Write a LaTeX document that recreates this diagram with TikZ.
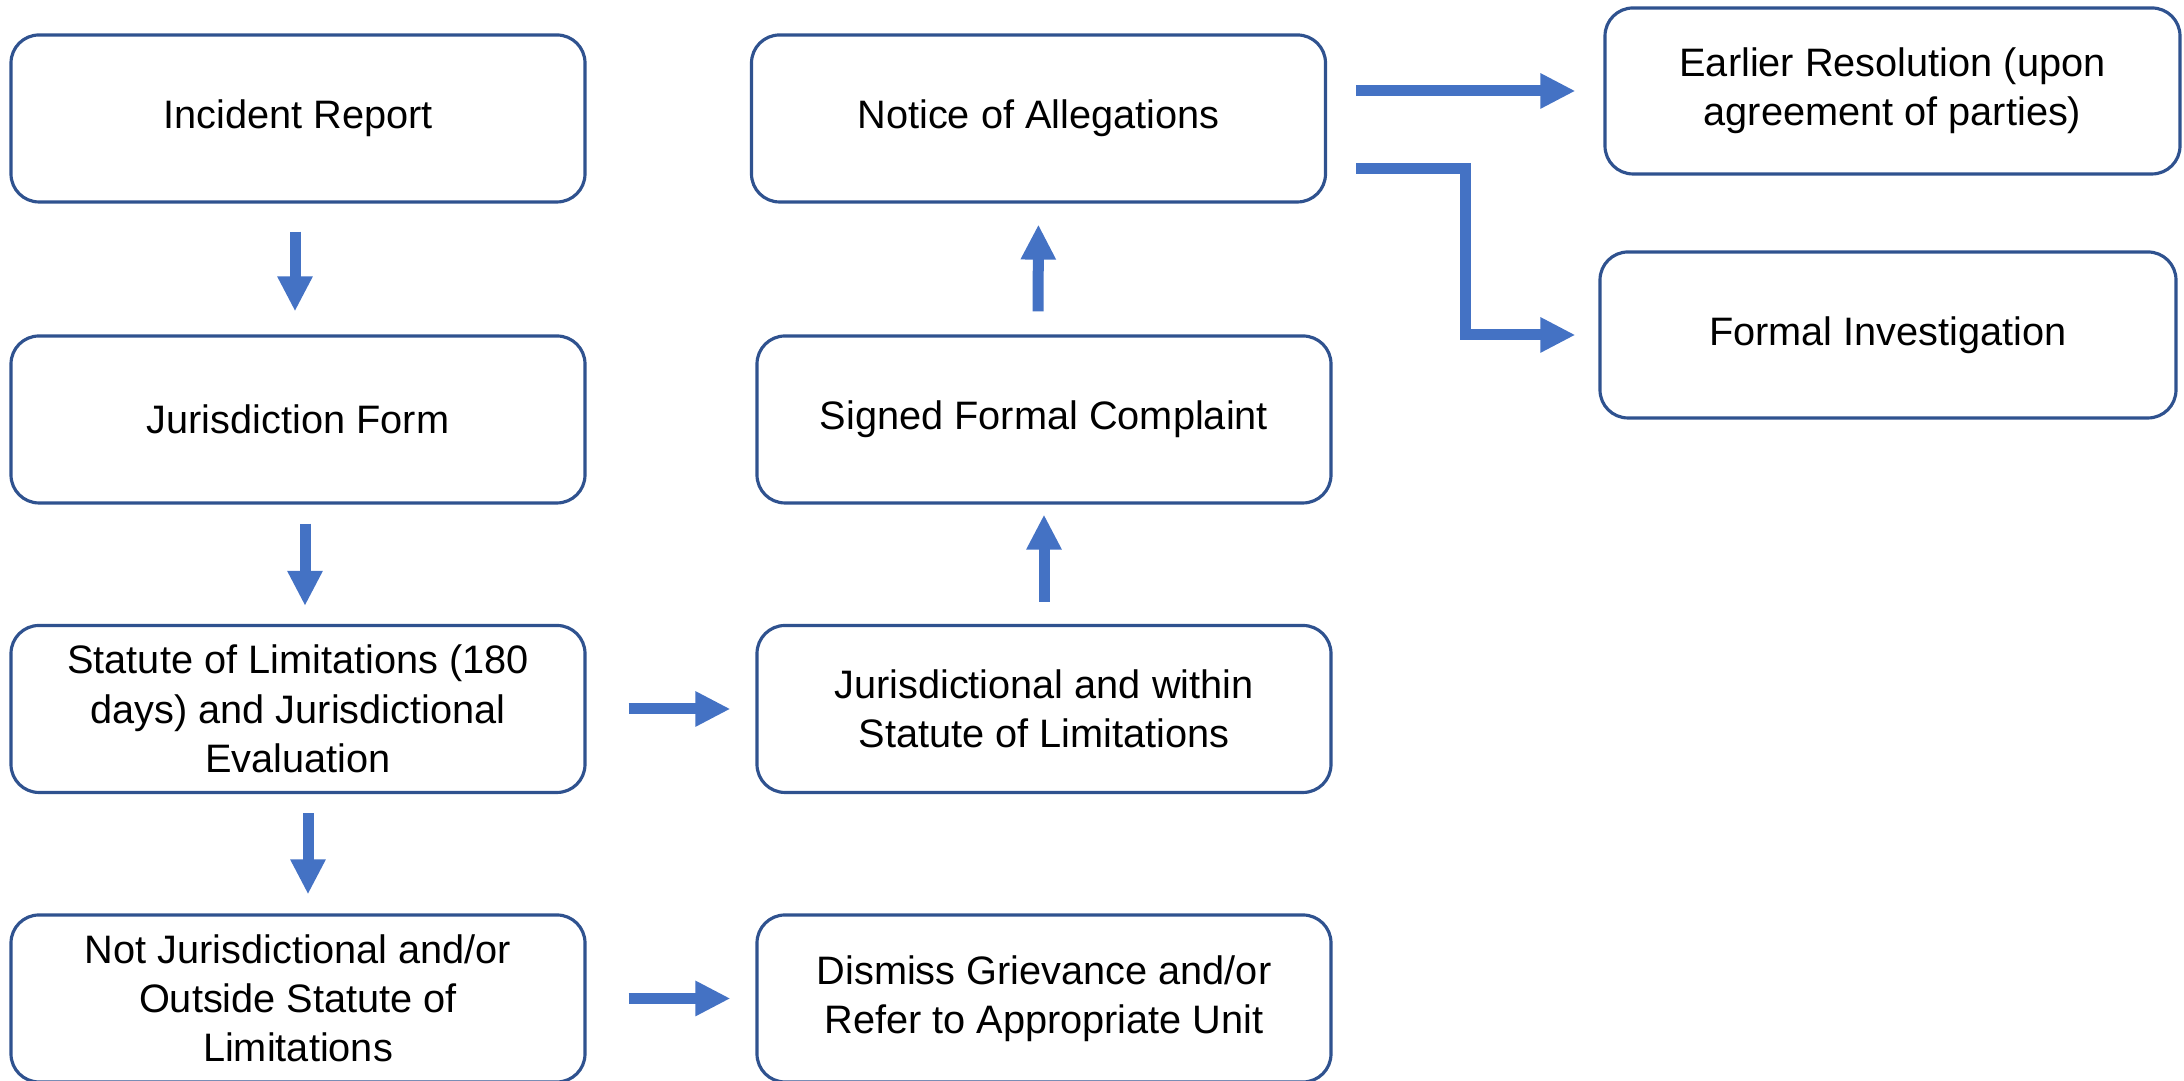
\documentclass[tikz,border=0pt]{standalone}
\usepackage{fontspec}
\setmainfont{Liberation Sans}
\usepackage{xcolor}
\usetikzlibrary{
    arrows.meta,
    calc,
    positioning
}
\definecolor{boxblue}{HTML}{2F528F}
\definecolor{arrowblue}{HTML}{4472C4}

\begin{document}
\begin{tikzpicture}[
    stage/.style={draw=boxblue, line width=0.9pt, rounded corners=0.28cm, minimum width=5.74cm, minimum height=1.67cm, inner sep=0pt, align=center, font=\fontsize{11.3}{14}\selectfont},
    flow/.style={draw=arrowblue, line width=0.11cm, line join=miter, -{Triangle[width=0.33cm, length=0.35cm]}}
]
    \useasboundingbox (0, 0) rectangle (21.84, 10.81);
    % left column
    \node[stage] (incident) at (2.98, 9.625) {Incident Report};
    \node[stage] (juris) at (2.98, 6.615) {Jurisdiction Form};
    \node[stage] (statute) at (2.98, 3.72) {Statute of Limitations (180\\days) and Jurisdictional\\Evaluation};
    \node[stage] (outside) at (2.98, 0.825) {Not Jurisdictional and/or\\Outside Statute of\\Limitations};
    % middle column
    \node[stage] (notice) at (10.385, 9.625) {Notice of Allegations};
    \node[stage] (signed) at (10.44, 6.615) {Signed Formal Complaint};
    \node[stage] (within) at (10.44, 3.72) {Jurisdictional and within\\Statute of Limitations};
    \node[stage] (dismiss) at (10.44, 0.825) {Dismiss Grievance and/or\\Refer to Appropriate Unit};
    % right column
    \node[stage, minimum height=1.66cm, minimum width=5.75cm] (earlier) at (18.925, 9.9) {Earlier Resolution (upon\\agreement of parties)};
    \node[stage, minimum height=1.66cm, minimum width=5.76cm] (formal) at (18.88, 7.46) {Formal Investigation};

    \draw[flow, shorten <=0.28cm, shorten >=0.23cm] ([xshift=-0.03cm]incident.south) -- ([xshift=-0.03cm]juris.north);
    \draw[flow, shorten <=0.19cm, shorten >=0.18cm] ([xshift=0.07cm]juris.south) -- ([xshift=0.07cm]statute.north);
    \draw[flow, shorten <=0.19cm, shorten >=0.19cm] ([xshift=0.1cm]statute.south) -- ([xshift=0.1cm]outside.north);
    \draw[flow, shorten <=0.42cm, shorten >=0.25cm] (statute.east) -- (within.west);
    \draw[flow, shorten <=0.42cm, shorten >=0.25cm] (outside.east) -- (dismiss.west);
    \draw[flow, shorten <=0.22cm, shorten >=0.1cm] (within.north) -- (signed.south);
    \draw[flow, shorten <=0.23cm, shorten >=0.21cm] ([xshift=-0.06cm]signed.north) -- (notice.south);
    \draw[flow, shorten <=0.29cm, shorten >=0.28cm] (notice.east |- earlier.west) -- (earlier.west);
    \draw[flow, shorten <=0.29cm, shorten >=0.23cm] ([yshift=-0.505cm]notice.east) -- ++(1.38, 0) |- (formal.west);
\end{tikzpicture}
\end{document}
